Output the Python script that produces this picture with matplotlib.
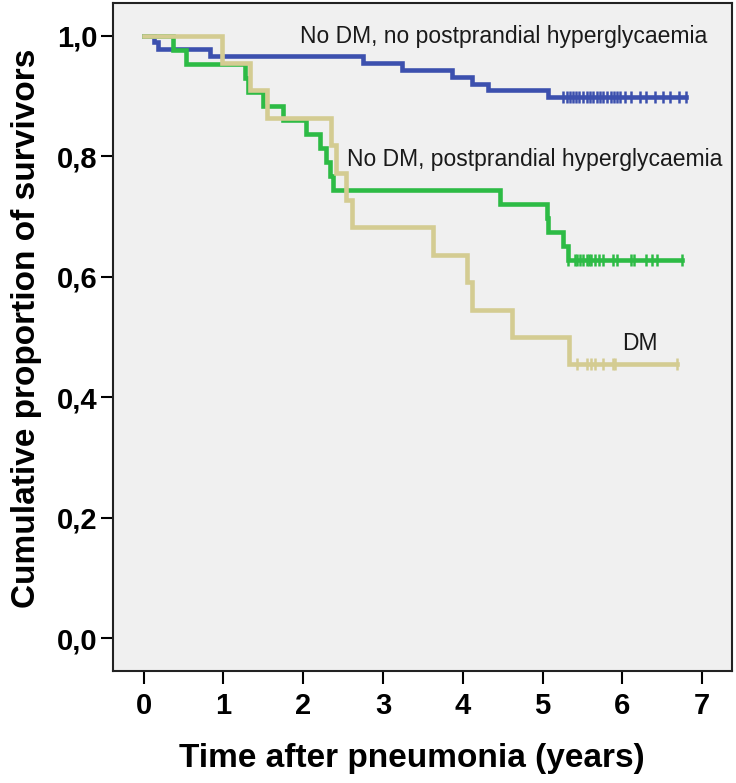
import matplotlib
matplotlib.use("Agg")
import matplotlib.pyplot as plt
import numpy as np

plt.rcParams['font.family'] = ['Liberation Sans', 'DejaVu Sans']

# Kaplan-Meier steps: event times (years) and survival after each step
blue_t = [0.0, 0.13, 0.18, 0.83, 2.75, 3.24, 3.86, 4.11, 4.31, 5.07, 6.80]
blue_s = [1.0, 0.989, 0.977, 0.966, 0.955, 0.943, 0.932, 0.920, 0.909, 0.898, 0.898]
blue_cens = [5.26, 5.30, 5.34, 5.38, 5.42, 5.46, 5.51, 5.55, 5.59, 5.63, 5.68,
             5.72, 5.76, 5.80, 5.85, 5.89, 5.93, 5.97, 6.03, 6.11, 6.22, 6.30,
             6.41, 6.51, 6.59, 6.71, 6.80]

green_t = [0.0, 0.365, 0.53, 1.27, 1.31, 1.50, 1.75, 2.03, 2.21, 2.29, 2.34,
           2.37, 4.47, 5.05, 5.07, 5.26, 5.32, 6.74]
green_s = [1.0, 0.9767, 0.9535, 0.9302, 0.9070, 0.8837, 0.8605, 0.8372, 0.8140,
           0.7907, 0.7674, 0.7442, 0.7209, 0.6977, 0.6744, 0.6512, 0.6279, 0.6279]
green_cens = [5.32, 5.40, 5.43, 5.47, 5.51, 5.55, 5.58, 5.61, 5.66, 5.70, 5.76,
              5.88, 5.93, 6.11, 6.14, 6.30, 6.37, 6.43, 6.74]

tan_t = [0.0, 0.98, 1.33, 1.55, 2.35, 2.41, 2.54, 2.61, 3.63, 4.05, 4.11, 4.61,
         5.33, 6.68]
tan_s = [1.0, 0.9545, 0.9091, 0.8636, 0.8182, 0.7727, 0.7273, 0.6818, 0.6364,
         0.5909, 0.5455, 0.5000, 0.4545, 0.4545]
tan_cens = [5.43, 5.55, 5.61, 5.66, 5.76, 5.88, 5.91, 6.68]

labels = ['No DM, no postprandial hyperglycaemia',
          'No DM, postprandial hyperglycaemia',
          'DM']
label_pos = [(1.96, 0.998), (2.55, 0.794), (5.99, 0.490)]

col_blue = '#3c50ae'
col_green = '#2dbb45'
col_tan = '#d4cc92'

fig = plt.figure(figsize=(7.36, 7.83), dpi=100)
ax = fig.add_axes([113/736, 1 - 671/783, 619/736, 668/783])
ax.set_facecolor('#f0f0f0')

for t, s, c, col in [(blue_t, blue_s, blue_cens, col_blue),
                     (green_t, green_s, green_cens, col_green),
                     (tan_t, tan_s, tan_cens, col_tan)]:
    ax.step(t, s, where='post', color=col, lw=3.3, solid_joinstyle='miter')
    cy = [s[np.searchsorted(t, x, side='right') - 1] for x in c]
    ax.plot(c, cy, ls='none', marker='|', ms=8.5, mew=1.8, color=col)

for txt, (x, y) in zip(labels, label_pos):
    ax.text(x, y, txt, fontsize=16.5, color='#1a1a1a', ha='left', va='center')

ax.set_xlim(-0.383, 7.372)
ax.set_ylim(-0.054, 1.054)
ax.set_xticks(range(0, 8))
ax.set_yticks([0, 0.2, 0.4, 0.6, 0.8, 1.0])
ax.set_yticklabels(['0,0', '0,2', '0,4', '0,6', '0,8', '1,0'])

ax.tick_params(axis='x', direction='out', length=9, width=1.5, pad=6,
               labelsize=21)
ax.tick_params(axis='y', direction='out', length=9, width=1.5, pad=2,
               labelsize=21)
for lab in ax.get_xticklabels() + ax.get_yticklabels():
    lab.set_fontweight('bold')
for sp in ax.spines.values():
    sp.set_linewidth(1.5)
    sp.set_color('#222222')

ax.set_xlabel('Time after pneumonia (years)', fontsize=24, fontweight='bold',
              va='center')
ax.set_ylabel('Cumulative proportion of survivors', fontsize=24,
              fontweight='bold', va='center')
ax.xaxis.set_label_coords(0.483, -0.1317)
ax.yaxis.set_label_coords(-0.1405, 0.5127)

fig.savefig('out.png', dpi=100)
